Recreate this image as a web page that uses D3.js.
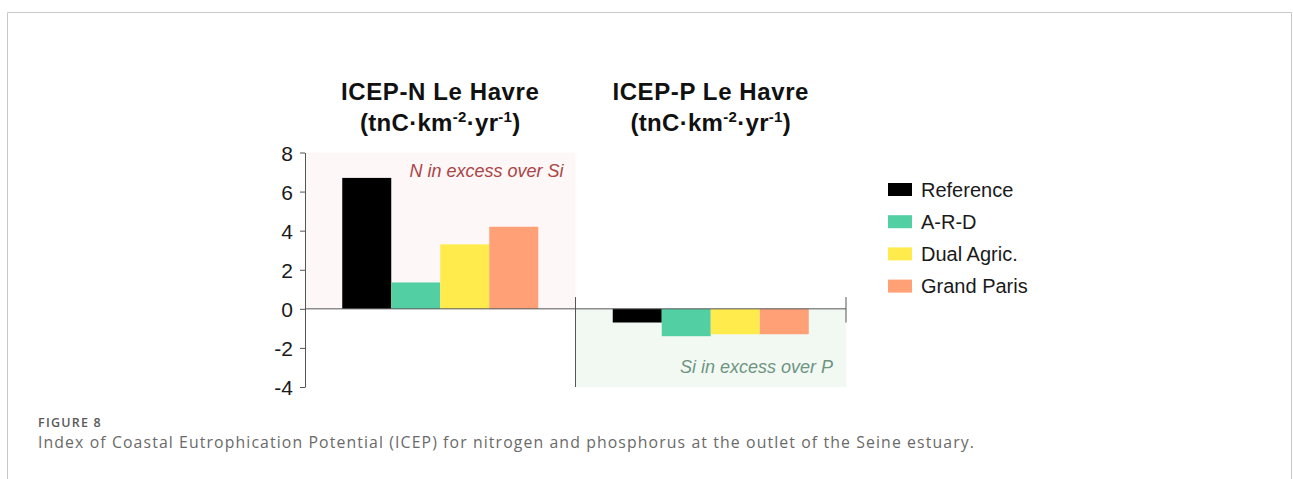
<!DOCTYPE html>
<html><head><meta charset="utf-8">
<script src="https://cdn.jsdelivr.net/npm/d3@7/dist/d3.min.js"></script>
<style>
html,body{margin:0;padding:0;background:#fff;}
svg{display:block;}
</style></head>
<body>
<svg id="chart" width="1293" height="479"></svg>
<script>
const groups = ["ICEP-N", "ICEP-P"];
const groupTitles = ["ICEP-N Le Havre", "ICEP-P Le Havre"];
const series = ["Reference", "A-R-D", "Dual Agric.", "Grand Paris"];
const valuesN = [6.7, 1.35, 3.3, 4.2];
const valuesP = [-0.7, -1.4, -1.3, -1.3];
const yTicks = [-4, -2, 0, 2, 4, 6, 8];
const colors = ["#000000", "#53cfa4", "#ffeb4b", "#ffa077"];
const panelNotes = ["N in excess over Si", "Si in excess over P"];
const captionLabel = "FIGURE 8";
const captionText = "Index of Coastal Eutrophication Potential (ICEP) for nitrogen and phosphorus at the outlet of the Seine estuary.";

const svg = d3.select("#chart");
const font = "'Liberation Sans', Arial, Helvetica, sans-serif";

// frame
svg.append("path")
  .attr("d", "M7.5,479 V12.5 H1291.5 V479")
  .attr("fill", "none").attr("stroke", "#c8c8c8").attr("stroke-width", 1);

const y = d3.scaleLinear().domain([-4, 8]).range([387, 152.5]);
const x0 = d3.scaleBand().domain(groups).range([305, 846]);
const x1 = d3.scaleBand().domain(series).range([0, x0.bandwidth()]).paddingInner(0).paddingOuter(0.76);

// background panels
svg.append("rect").attr("x", x0("ICEP-N")).attr("y", y(8))
  .attr("width", x0.bandwidth()).attr("height", y(0) - y(8)).attr("fill", "#fdf7f8");
svg.append("rect").attr("x", x0("ICEP-P")).attr("y", y(0))
  .attr("width", x0.bandwidth()).attr("height", y(-4) - y(0)).attr("fill", "#f2f9f2");

// bars
const data = [valuesN, valuesP];
groups.forEach((g, gi) => {
  svg.append("g").selectAll("rect")
    .data(data[gi].map((v, i) => ({s: series[i], v, c: colors[i]})))
    .join("rect")
    .attr("x", d => x0(g) + x1(d.s))
    .attr("width", x1.bandwidth())
    .attr("y", d => y(Math.max(0, d.v)))
    .attr("height", d => Math.abs(y(d.v) - y(0)))
    .attr("fill", d => d.c);
});

// y axis
const ax = svg.append("g").attr("transform", `translate(${x0.range()[0]},0)`)
  .call(d3.axisLeft(y).tickValues(yTicks).tickFormat(d => String(d)).tickSize(5).tickPadding(7).tickSizeOuter(0));
ax.select(".domain").attr("stroke", "#555");
ax.selectAll(".tick line").attr("stroke", "#555");
ax.selectAll(".tick text").attr("font-family", font).attr("font-size", 21)
  .attr("fill", "#1a1a1a").attr("dy", "0.36em");

// zero line and separators
svg.append("line").attr("x1", x0.range()[0]).attr("x2", x0.range()[1])
  .attr("y1", y(0)).attr("y2", y(0)).attr("stroke", "#555").attr("stroke-width", 1);
svg.append("line").attr("x1", x0("ICEP-P")).attr("x2", x0("ICEP-P"))
  .attr("y1", y(0.6)).attr("y2", y(-4)).attr("stroke", "#555").attr("stroke-width", 1);
svg.append("line").attr("x1", x0.range()[1]).attr("x2", x0.range()[1])
  .attr("y1", y(0.6)).attr("y2", y(-0.7)).attr("stroke", "#555").attr("stroke-width", 1);

// panel notes
svg.append("text").attr("x", x0("ICEP-N") + x0.bandwidth() - 12).attr("y", y(6.75))
  .attr("text-anchor", "end").attr("font-family", font).attr("font-style", "italic")
  .attr("font-size", 18).attr("fill", "#ab4444").text(panelNotes[0]);
svg.append("text").attr("x", x0("ICEP-P") + x0.bandwidth() - 13).attr("y", y(-3.3))
  .attr("text-anchor", "end").attr("font-family", font).attr("font-style", "italic")
  .attr("font-size", 18).attr("fill", "#6e9483").text(panelNotes[1]);

// titles
groups.forEach((g, gi) => {
  const cx = x0(g) + x0.bandwidth() / 2;
  svg.append("text").attr("x", cx).attr("y", 100).attr("text-anchor", "middle")
    .attr("font-family", font).attr("font-weight", "bold").attr("font-size", 24)
    .attr("letter-spacing", 0.6).attr("fill", "#111").text(groupTitles[gi]);
  const t = svg.append("text").attr("x", cx).attr("y", 131).attr("text-anchor", "middle")
    .attr("font-family", font).attr("font-weight", "bold").attr("font-size", 24)
    .attr("letter-spacing", 0.3).attr("fill", "#111");
  t.append("tspan").text("(tnC·km");
  t.append("tspan").attr("dy", -9).attr("font-size", 15).text("-2");
  t.append("tspan").attr("dy", 9).text("·yr");
  t.append("tspan").attr("dy", -9).attr("font-size", 15).text("-1");
  t.append("tspan").attr("dy", 9).text(")");
});

// legend
const lg = svg.append("g").attr("transform", "translate(888,183)");
series.forEach((s, i) => {
  const row = lg.append("g").attr("transform", `translate(0,${i * 32.2})`);
  row.append("rect").attr("width", 24).attr("height", 13).attr("fill", colors[i]);
  row.append("text").attr("x", 33).attr("y", 6.5).attr("dy", "0.36em")
    .attr("font-family", font).attr("font-size", 20).attr("fill", "#1a1a1a").text(s);
});

// caption
const lab = svg.append("text").attr("x", 38).attr("y", 427).attr("font-family", "'Open Sans', sans-serif")
  .attr("font-size", 12.5).attr("font-weight", 600).attr("fill", "#5a5a5a").text(captionLabel);
const lw = lab.node().getComputedTextLength();
if (lw > 0) lab.attr("letter-spacing", Math.max(0, (64 - lw) / captionLabel.length));
const cap = svg.append("text").attr("x", 38).attr("y", 448).attr("font-family", "'Open Sans', sans-serif")
  .attr("font-size", 15.8).attr("fill", "#6a6a6a").text(captionText);
const w = cap.node().getComputedTextLength();
if (w > 0) cap.attr("letter-spacing", (937 - w) / captionText.length);
</script>
</body></html>
